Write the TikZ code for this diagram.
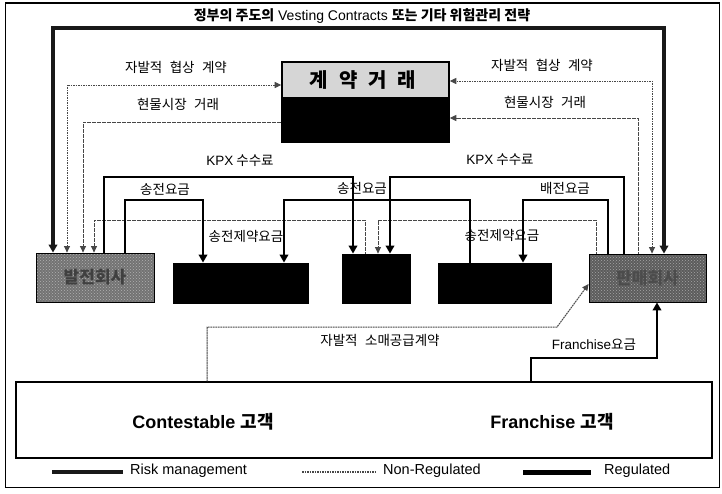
\documentclass[tikz,border=0pt]{standalone}
\usepackage{fontspec}
\setmainfont{Liberation Sans}
\newfontfamily\kr{Noto Sans CJK KR}
\usetikzlibrary{arrows.meta,patterns}
\newcommand\kgap{\hspace{0.55em}}
\begin{document}
\begin{tikzpicture}[x=1pt,y=-1pt,
  risk/.style={line width=3.2pt,black!90},
  reg/.style={line width=2.6pt,black},
  nreg/.style={line width=1pt,black!72,dash pattern=on 1.8pt off 0.7pt},
  bigtip/.tip={Triangle[length=8pt,width=8.5pt]},
  smtip/.tip={Triangle[length=6.5pt,width=6pt]},
  lbl/.style={inner sep=0pt,font=\kr\fontsize{13.5}{15}\selectfont},
  box/.style={draw,line width=0.8pt,inner sep=0pt},
  big/.style={inner sep=0pt,font=\bfseries\fontsize{18}{20}\selectfont},
  lgd/.style={inner sep=0pt,anchor=west,font=\fontsize{14.5}{16}\selectfont},
]
\useasboundingbox (0,0) rectangle (722,493);
\node[draw,line width=1.2pt,minimum width=714pt,minimum height=484.5pt,inner sep=0pt] (frame) at (362.5,245.25) {};

% columns and levels
\foreach \v in {53,67,83,94,104,125,203,207,284,353,365,378,390,470,523,531,557,596,608,624,638,652,657,664}
  \coordinate (x\v) at (\v,0);
\foreach \v in {28,81,85,118,122,177,200,220,284,327,358}
  \coordinate (y\v) at (0,\v);

% boxes
\node[box,preaction={fill=black!55},pattern=crosshatch dots,pattern color=black!30,
      minimum width=118pt,minimum height=49pt,
      font=\kr\bfseries\fontsize{17}{17}\selectfont,text=black!75] (gen) at (95,277.5) {발전회사};
\node[box,fill=black,minimum width=135pt,minimum height=40pt] (tx) at (240.5,283) {};
\node[box,fill=black,minimum width=68pt,minimum height=49pt] (kpx) at (376,278.5) {};
\node[box,fill=black,minimum width=113pt,minimum height=40pt] (dist) at (494.5,283) {};
\node[box,preaction={fill=black!64},pattern=crosshatch dots,pattern color=black!35,
      minimum width=117pt,minimum height=48pt,
      font=\kr\bfseries\fontsize{17}{17}\selectfont,text=black!70] (rbox) at (647.5,278) {판매회사};
\node[draw,line width=1.6pt,fill=black,minimum width=167pt,minimum height=80pt,inner sep=0pt,
      path picture={\fill[black!16] (path picture bounding box.north west) rectangle ([yshift=-35pt]path picture bounding box.north east);}]
      (contract) at (365.5,102) {};
\node[inner sep=0pt,font=\kr\bfseries\fontsize{20}{20}\selectfont] (ctitle) at (363,80) {계\kgap 약\kgap 거\kgap 래};
\node[draw,line width=1.5pt,minimum width=696pt,minimum height=76pt,inner sep=0pt] (cust) at (364,420) {};

% labels
\node[inner sep=0pt,font=\fontsize{14}{16}\selectfont] (title) at (362,16)
  {{\kr\bfseries 정부의 주도의} Vesting Contracts {\kr\bfseries 또는 기타 위험관리 전략}};
\node[lbl] (l1) at (176,67) {자발적\kgap 협상\kgap 계약};
\node[lbl] (r1) at (542,65) {자발적\kgap 협상\kgap 계약};
\node[lbl] (l2) at (178,104) {현물시장\kgap 거래};
\node[lbl] (r2) at (545,102) {현물시장\kgap 거래};
\node[lbl] (l3) at (240,161) {{\rmfamily KPX} 수수료};
\node[lbl] (r3) at (500,160) {{\rmfamily KPX} 수수료};
\node[lbl] (l4) at (165,189) {송전요금};
\node[lbl] (m4) at (362,188) {송전요금};
\node[lbl] (r4) at (565,188) {배전요금};
\node[lbl] (l5) at (246,236) {송전제약요금};
\node[lbl] (r5) at (502,235) {송전제약요금};
\node[lbl] (s1) at (380,340) {자발적\kgap 소매공급계약};
\node[lbl] (s2) at (594,345) {{\rmfamily Franchise}요금};
\node[big] (c1) at (203,422) {Contestable {\kr 고객}};
\node[big] (c2) at (552,422) {Franchise {\kr 고객}};

% risk management
\draw[risk,bigtip-bigtip] (x53|-gen.north) -- (x53|-y28) -| (x664|-rbox.north);

% non-regulated
\draw[nreg,smtip-smtip] (x67|-gen.north) |- (contract.west|-y85);
\draw[nreg,-smtip] (contract.west|-y122) -| (x83|-gen.north);
\draw[nreg,-smtip] (x365|-kpx.north) -- (x365|-y220) -| (x94|-gen.north);
\draw[nreg,-smtip] (x596|-rbox.north) -- (x596|-y220) -| (x378|-kpx.north);
\draw[nreg,-smtip] (x638|-rbox.north) |- (contract.east|-y118);
\draw[nreg,smtip-smtip] (x652|-rbox.north) |- (contract.east|-y81);
\draw[nreg,-smtip] (x207|-cust.north) -- (x207|-y327) -- (x557|-y327) -- (rbox.west|-y284);

% regulated
\draw[reg,-bigtip] (x104|-gen.north) -- (x104|-y177) -| (x353|-kpx.north);
\draw[reg,-bigtip] (x624|-rbox.north) -- (x624|-y177) -| (x390|-kpx.north);
\draw[reg,-bigtip] (x125|-gen.north) -- (x125|-y200) -| (x203|-tx.north);
\draw[reg,-bigtip] (x470|-dist.north) -- (x470|-y200) -| (x284|-tx.north);
\draw[reg,-bigtip] (x608|-rbox.north) -- (x608|-y200) -| (x523|-dist.north);
\draw[reg,-bigtip] (x531|-cust.north) -- (x531|-y358) -| (x657|-rbox.south);

% legend
\coordinate (g1a) at (52,472); \coordinate (g1b) at (123,472);
\coordinate (g2a) at (302,472); \coordinate (g2b) at (375,472);
\coordinate (g3a) at (523,472); \coordinate (g3b) at (591,472);
\draw[risk,line width=4pt] (g1a) -- (g1b);
\draw[nreg,line width=1.4pt] (g2a) -- (g2b);
\draw[reg,line width=5pt] (g3a) -- (g3b);
\node[lgd] (t1) at (130,471) {Risk management};
\node[lgd] (t2) at (383,471) {Non-Regulated};
\node[lgd] (t3) at (604,471) {Regulated};
\end{tikzpicture}
\end{document}
